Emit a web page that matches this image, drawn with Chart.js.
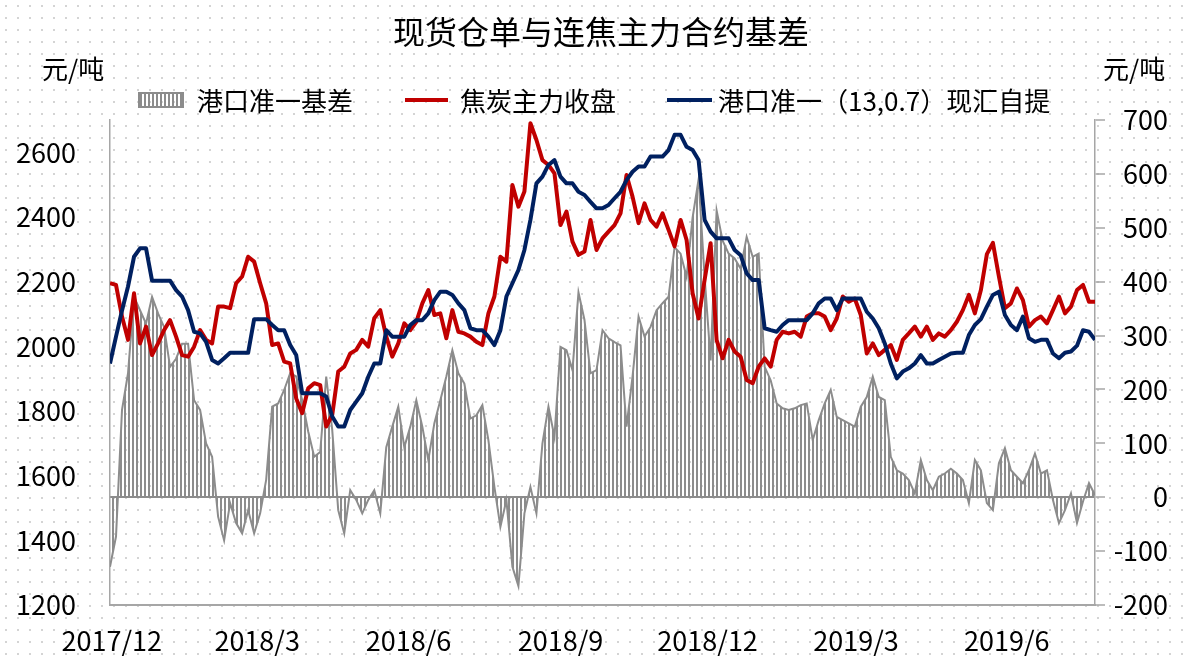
<!DOCTYPE html>
<html lang="zh-CN">
<head>
<meta charset="utf-8">
<title>现货仓单与连焦主力合约基差</title>
<script src="https://cdn.jsdelivr.net/npm/chart.js@4.4.1/dist/chart.umd.min.js"></script>
<style>
  html, body { margin: 0; padding: 0; }
  body {
    width: 1186px; height: 659px; overflow: hidden; position: relative;
    background-color: #fff;
    background-image: radial-gradient(circle, #d4d4d4 1px, transparent 1.4px);
    background-size: 12px 12px;
    font-family: "Noto Sans CJK SC", sans-serif; color: #000;
  }
  #wrap { position: absolute; left: 0; top: 0; width: 1186px; height: 659px; }
  .title { position: absolute; left: 0; width: 1202px; top: 8px; text-align: center; font-size: 32px; line-height: 44px; }
  .unit { position: absolute; top: 53px; font-size: 26px; line-height: 30px; }
  .leg { position: absolute; top: 85px; font-size: 26px; line-height: 30px; white-space: nowrap; }
  .swatch { position: absolute; }
  .swatch.bars {
    top: 92px; width: 42px; height: 12px; border: 2px solid #8c8c8c;
    background: repeating-linear-gradient(90deg, #8c8c8c 0 2px, transparent 2px 4px);
  }
  .swatch.line { top: 98px; height: 4px; }
</style>
</head>
<body>
<div id="wrap"><canvas id="chart"></canvas></div>
<div class="title">现货仓单与连焦主力合约基差</div>
<div class="unit" style="left:42px">元/吨</div>
<div class="unit" style="left:1103px">元/吨</div>
<div class="swatch bars" style="left:138px"></div>
<div class="leg" id="leg0" style="left:197px"></div>
<div class="swatch line" style="left:405px;width:43px;background:#c00000"></div>
<div class="leg" id="leg1" style="left:460px"></div>
<div class="swatch line" style="left:667px;width:45px;background:#002060"></div>
<div class="leg" id="leg2" style="left:718px"></div>
<script>
// 现货仓单与连焦主力合约基差 — samples roughly every 2-3 trading days, Dec 2017 to Aug 2019

const seriesNames = ["港口准一基差", "焦炭主力收盘", "港口准一（13,0.7）现汇自提"];

// 港口准一基差 (right axis)
const basisData = [
  -129, -73, 162, 230, 372, 347, 322, 372, 341, 316,
  242, 257, 285, 285, 180, 162, 100, 75, -36, -80,
  -11, -48, -67, -24, -67, -30, 32, 168, 174, 199,
  230, 224, 180, 122, 75, 84, 224, 125, -24, -67,
  13, -5, -30, -5, 13, -30, 93, 131, 168, 93,
  131, 180, 131, 69, 137, 180, 224, 273, 230, 211,
  146, 152, 171, 106, 19, -55, -5, -129, -165, -30,
  19, -30, 100, 168, 112, 279, 273, 236, 380, 329,
  230, 236, 310, 295, 288, 282, 131, 224, 335, 298,
  316, 347, 360, 372, 464, 452, 409, 519, 590, 409,
  254, 532, 476, 452, 443, 424, 483, 446, 452, 242,
  217, 174, 165, 162, 165, 171, 174, 106, 143, 174,
  199, 149, 143, 137, 131, 168, 186, 224, 186, 180,
  75, 50, 44, 32, 7, 69, 32, 13, 38, 44,
  53, 44, 32, -11, 69, 50, -11, -24, 63, 91,
  50, 38, 26, 50, 81, 44, 50, -5, -48, -24,
  7, -48, -8, 26, 4
];

// 焦炭主力收盘 (left axis)
const cokeClose = [
  2195, 2190, 2092, 2020, 2164, 2009, 2061, 1973, 2009, 2050,
  2081, 2030, 1973, 1968, 1999, 2050, 2020, 2009, 2123, 2123,
  2118, 2195, 2216, 2277, 2262, 2195, 2133, 2004, 2009, 1953,
  1947, 1839, 1793, 1870, 1886, 1880, 1752, 1788, 1922, 1937,
  1978, 1989, 2020, 1999, 2087, 2112, 2030, 1968, 2009, 2071,
  2050, 2076, 2133, 2174, 2097, 2102, 2025, 2112, 2045, 2040,
  2030, 2014, 2004, 2102, 2154, 2277, 2262, 2499, 2432, 2479,
  2690, 2638, 2576, 2561, 2535, 2375, 2417, 2324, 2283, 2293,
  2391, 2298, 2334, 2355, 2375, 2411, 2530, 2463, 2381, 2442,
  2391, 2370, 2411, 2360, 2309, 2391, 2329, 2164, 2086, 2205,
  2319, 2019, 1963, 2020, 1984, 1968, 1896, 1886, 1937, 1963,
  1937, 2020, 2045, 2040, 2045, 2030, 2092, 2102, 2102, 2092,
  2050, 2086, 2154, 2138, 2148, 2097, 1978, 2009, 1973, 1989,
  2004, 1958, 2020, 2040, 2061, 2030, 2061, 2020, 2040, 2030,
  2050, 2076, 2112, 2159, 2102, 2174, 2285, 2320, 2216, 2118,
  2133, 2179, 2143, 2061, 2081, 2092, 2071, 2112, 2154, 2102,
  2123, 2174, 2190, 2138, 2138
];

// 港口准一（13,0.7）现汇自提 (left axis)
const portPrice = [
  1947, 2030, 2111, 2185, 2277, 2303, 2303, 2203, 2203, 2203,
  2203, 2174, 2154, 2112, 2045, 2040, 2014, 1958, 1947, 1963,
  1980, 1980, 1980, 1980, 2084, 2084, 2084, 2066, 2050, 2050,
  2004, 1973, 1855, 1855, 1855, 1855, 1845, 1783, 1752, 1752,
  1803, 1829, 1855, 1906, 1947, 1947, 2050, 2030, 2030, 2030,
  2066, 2081, 2081, 2102, 2143, 2169, 2169, 2159, 2133, 2112,
  2056, 2050, 2050, 2030, 2004, 2050, 2154, 2195, 2236, 2298,
  2391, 2504, 2525, 2561, 2576, 2525, 2504, 2504, 2478, 2468,
  2447, 2427, 2427, 2437, 2458, 2478, 2514, 2540, 2556, 2556,
  2587, 2587, 2587, 2607, 2654, 2654, 2617, 2607, 2576, 2391,
  2355, 2334, 2334, 2334, 2298, 2282, 2226, 2205, 2205, 2056,
  2050, 2045, 2066, 2081, 2081, 2081, 2081, 2102, 2133, 2148,
  2148, 2112, 2148, 2148, 2148, 2148, 2107, 2086, 2056, 2009,
  1947, 1901, 1922, 1932, 1947, 1973, 1947, 1947, 1958, 1968,
  1978, 1980, 1980, 2035, 2066, 2084, 2123, 2159, 2169, 2097,
  2066, 2050, 2092, 2025, 2014, 2020, 2020, 1978, 1963, 1980,
  1984, 2002, 2050, 2045, 2020
];

// x axis: month labels and the sample index where each one sits
const tickLabels = ["2017/12", "2018/3", "2018/6", "2018/9", "2018/12", "2019/3", "2019/6"];
const tickIndex = [0.3, 24.5, 49.7, 75, 99.5, 124.2, 149.3];
const leftTicks = [1200, 1400, 1600, 1800, 2000, 2200, 2400, 2600];
const rightTicks = [-200, -100, 0, 100, 200, 300, 400, 500, 600, 700];

seriesNames.forEach((name, i) => {
  document.getElementById("leg" + i).textContent = name;
});

const family = '"Noto Sans CJK SC", sans-serif';
Chart.defaults.font.family = family;
Chart.defaults.color = "#000";

function stripePattern() {
  const c = document.createElement("canvas");
  c.width = 4;
  c.height = 4;
  const g = c.getContext("2d");
  g.fillStyle = "#8c8c8c";
  g.fillRect(0, 0, 2, 4);
  return g.createPattern(c, "repeat");
}

const toPoints = (arr) => arr.map((v, i) => ({ x: i, y: v }));
const lastIndex = basisData.length - 1;

new Chart(document.getElementById("chart"), {
  type: "line",
  data: {
    datasets: [
      {
        label: seriesNames[0],
        data: toPoints(basisData),
        yAxisID: "y1",
        borderColor: "#8c8c8c",
        borderWidth: 2,
        backgroundColor: stripePattern(),
        fill: "origin",
        pointRadius: 0,
        tension: 0,
        order: 3,
      },
      {
        label: seriesNames[1],
        data: toPoints(cokeClose),
        yAxisID: "y",
        borderColor: "#c00000",
        borderWidth: 4,
        borderJoinStyle: "round",
        fill: false,
        pointRadius: 0,
        tension: 0,
        order: 2,
      },
      {
        label: seriesNames[2],
        data: toPoints(portPrice),
        yAxisID: "y",
        borderColor: "#002060",
        borderWidth: 4,
        borderJoinStyle: "round",
        fill: false,
        pointRadius: 0,
        tension: 0,
        order: 1,
      },
    ],
  },
  options: {
    responsive: true,
    maintainAspectRatio: false,
    animation: false,
    devicePixelRatio: 1,
    layout: { padding: { top: 120, left: 0, right: 18, bottom: 0 } },
    plugins: {
      legend: { display: false },
      title: { display: false },
      tooltip: { enabled: false },
    },
    scales: {
      x: {
        type: "linear",
        position: "bottom",
        min: 0,
        max: lastIndex,
        grid: { display: false, drawTicks: false },
        border: { display: true, color: "#a6a6a6", width: 2 },
        afterBuildTicks: (s) => { s.ticks = tickIndex.map((v) => ({ value: v })); },
        afterFit: (s) => { s.height = 54; },
        ticks: {
          autoSkip: false,
          maxRotation: 0,
          padding: 20,
          font: { size: 27 },
          callback: (v, i) => tickLabels[i],
        },
      },
      y: {
        position: "left",
        min: 1200,
        max: 2700,
        grid: { display: false, drawTicks: false },
        border: { display: true, color: "#a6a6a6", width: 1.5 },
        afterBuildTicks: (s) => { s.ticks = leftTicks.map((v) => ({ value: v })); },
        afterFit: (s) => { s.width = 110; },
        ticks: { padding: 34, font: { size: 27 }, callback: (v) => String(v) },
      },
      y1: {
        position: "right",
        min: -200,
        max: 700,
        grid: {
          drawOnChartArea: true,
          drawTicks: true,
          tickLength: 10,
          tickColor: "#a6a6a6",
          tickWidth: 1.5,
          lineWidth: 2,
          color: (ctx) => (ctx.tick && ctx.tick.value === 0 ? "#8c8c8c" : "rgba(0,0,0,0)"),
        },
        border: { display: true, color: "#a6a6a6", width: 1.5 },
        afterBuildTicks: (s) => { s.ticks = rightTicks.map((v) => ({ value: v })); },
        afterFit: (s) => { s.width = 73; },
        ticks: { crossAlign: "far", padding: 6, font: { size: 27 }, callback: (v) => String(v) },
      },
    },
  },
});
</script>
</body>
</html>
